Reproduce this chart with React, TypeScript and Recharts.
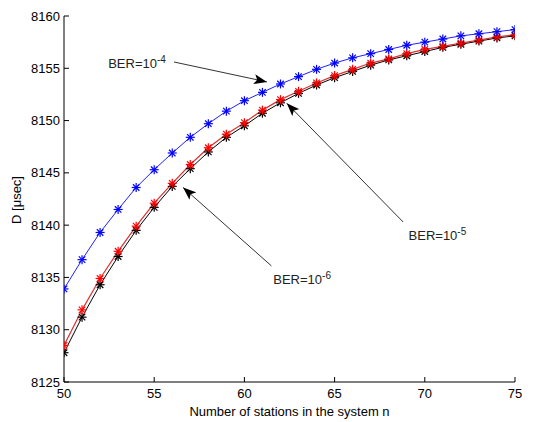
import React from 'react';
import { LineChart, Line, XAxis, YAxis, ReferenceLine, ReferenceDot, Label } from 'recharts';

const stations = [50, 51, 52, 53, 54, 55, 56, 57, 58, 59, 60, 61, 62, 63, 64, 65, 66, 67, 68, 69, 70, 71, 72, 73, 74, 75];

// BER = 1e-4
const ber4 = [8133.9, 8136.7, 8139.3, 8141.5, 8143.6, 8145.3, 8146.9, 8148.4, 8149.7, 8150.9, 8151.9, 8152.7, 8153.5,
    8154.2, 8154.9, 8155.5, 8156.0, 8156.4, 8156.8, 8157.2, 8157.5, 8157.8, 8158.1, 8158.3, 8158.5, 8158.7];
// BER = 1e-5
const ber5 = [8128.5, 8131.9, 8134.9, 8137.5, 8139.9, 8142.1, 8144.0, 8145.8, 8147.4, 8148.7, 8149.8, 8151.0, 8152.0,
    8152.8, 8153.6, 8154.3, 8154.9, 8155.5, 8155.9, 8156.4, 8156.8, 8157.1, 8157.4, 8157.7, 8158.0, 8158.2];
// BER = 1e-6
const ber6 = [8127.8, 8131.2, 8134.3, 8137.0, 8139.5, 8141.7, 8143.7, 8145.4, 8147.0, 8148.4, 8149.5, 8150.7, 8151.7,
    8152.6, 8153.4, 8154.1, 8154.7, 8155.3, 8155.8, 8156.2, 8156.6, 8157.0, 8157.3, 8157.6, 8157.9, 8158.1];

const xTicks = [50, 55, 60, 65, 70, 75];
const yTicks = [8125, 8130, 8135, 8140, 8145, 8150, 8155, 8160];

// annotation arrows: text position, line start, arrow tip
const notes = [
    { exp: '-4', text: { x: 52.45, y: 8155.5 }, from: { x: 56.1, y: 8155.6 }, to: { x: 61.25, y: 8153.7 } },
    { exp: '-5', text: { x: 69.1, y: 8139.0 }, from: { x: 68.8, y: 8140.3 }, to: { x: 62.35, y: 8151.65 } },
    { exp: '-6', text: { x: 61.6, y: 8134.8 }, from: { x: 61.5, y: 8136.1 }, to: { x: 56.6, y: 8143.6 } },
];

const data = stations.map((n, i) => ({ n, b4: ber4[i], b5: ber5[i], b6: ber6[i] }));

const font = 'Arial, "Liberation Sans", Helvetica, sans-serif';

function asterisk(color: string) {
    return (props: any) => {
        const { cx, cy, key } = props;
        const r = 4.5;
        const d = r * 0.72;
        return (
            <g key={key} stroke={color} strokeWidth={1.2}>
                <line x1={cx - r} y1={cy} x2={cx + r} y2={cy} />
                <line x1={cx} y1={cy - r} x2={cx} y2={cy + r} />
                <line x1={cx - d} y1={cy - d} x2={cx + d} y2={cy + d} />
                <line x1={cx - d} y1={cy + d} x2={cx + d} y2={cy - d} />
            </g>
        );
    };
}

// matlab style ticks: mark drawn inward from the axis line
const xTick = (props: any) => {
    const { x, y, payload } = props;
    return (
        <g>
            <line x1={x} y1={y - 7} x2={x} y2={y - 12} stroke="#000" />
            <text x={x} y={y} dy="0.71em" textAnchor="middle" fontSize={13} fontFamily={font} fill="#000">{payload.value}</text>
        </g>
    );
};

const yTick = (props: any) => {
    const { x, y, payload } = props;
    return (
        <g>
            <line x1={x + 4} y1={y} x2={x + 9} y2={y} stroke="#000" />
            <text x={x} y={y} dy="0.355em" textAnchor="end" fontSize={13} fontFamily={font} fill="#000">{payload.value}</text>
        </g>
    );
};

function berText(exp: string) {
    return (props: any) => {
        const vb = props.viewBox;
        const x = vb.x + vb.width / 2;
        const y = vb.y + vb.height / 2;
        return (
            <text x={x} y={y} dy="0.35em" fontSize={13} fontFamily={font} fill="#222" textAnchor="start">
                BER=10<tspan dy="-0.5em" fontSize={10}>{exp}</tspan>
            </text>
        );
    };
}

const arrowLine = (props: any) => (
    <line x1={props.x1} y1={props.y1} x2={props.x2} y2={props.y2} stroke="#333" strokeWidth={1} markerEnd="url(#arrowHead)" />
);

export default function App() {
    return (
        <div style={{ position: 'absolute', left: 0, top: 0, width: 540, height: 422, background: '#fff' }}>
            <LineChart width={540} height={422} data={data} margin={{ top: 16, right: 25, bottom: 0, left: 0 }}>
                <defs>
                    <marker id="arrowHead" markerUnits="userSpaceOnUse" markerWidth={14} markerHeight={10}
                        refX={13} refY={5} orient="auto">
                        <path d="M0,0 L13,5 L0,10 L3,5 Z" fill="#000" />
                    </marker>
                </defs>
                <XAxis dataKey="n" type="number" domain={[50, 75]} ticks={xTicks} height={40}
                    stroke="#000" tickSize={0} tickMargin={7} tickLine={false} allowDataOverflow tick={xTick}>
                    <Label value="Number of stations in the system n" position="insideBottom" offset={6}
                        style={{ fontSize: 13, fontFamily: font, fill: '#000' }} />
                </XAxis>
                <YAxis type="number" domain={[8125, 8160]} ticks={yTicks} width={64} stroke="#000"
                    tickSize={0} tickMargin={4} tickLine={false} allowDataOverflow interval={0} tick={yTick}>
                    <Label content={() => (
                        <text x={16} y={200} transform="rotate(-90 16 200)" textAnchor="middle" dy="0.35em"
                            fontSize={13} fontFamily={font} fill="#000">D [μsec]</text>
                    )} />
                </YAxis>
                <Line dataKey="b6" stroke="#000" strokeWidth={1} dot={asterisk('#000')} isAnimationActive={false} />
                <Line dataKey="b5" stroke="#e03030" strokeWidth={1.2} dot={asterisk('#ff0000')} isAnimationActive={false} />
                <Line dataKey="b4" stroke="#2020ff" strokeWidth={1} dot={asterisk('#0000ff')} isAnimationActive={false} />
                {notes.map((a) => (
                    <ReferenceLine key={'l' + a.exp} segment={[a.from, a.to]} shape={arrowLine} />
                ))}
                {notes.map((a) => (
                    <ReferenceDot key={'t' + a.exp} x={a.text.x} y={a.text.y} r={1} fill="none" stroke="none"
                        label={{ content: berText(a.exp) }} />
                ))}
            </LineChart>
        </div>
    );
}
